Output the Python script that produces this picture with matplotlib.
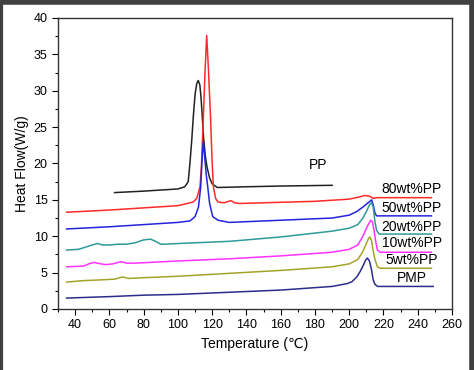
import matplotlib
matplotlib.use("Agg")
import matplotlib.pyplot as plt
from matplotlib.ticker import MultipleLocator
from matplotlib.lines import Line2D

plt.rcParams['font.family'] = ['Liberation Sans', 'DejaVu Sans']

# DSC curves (temperature in C, heat flow in W/g)
pp_x = [63, 80, 100, 104, 106, 107, 108, 109, 110, 111, 111.9, 112.8, 113.5, 114.2, 115, 116, 117, 118.5, 120, 123, 140, 160, 190]
pp_y = [16.0, 16.2, 16.5, 16.8, 17.5, 20.0, 23.0, 26.5, 29.5, 31.0, 31.4, 30.8, 29.0, 26.5, 23.5, 21.0, 19.5, 18.0, 17.2, 16.7, 16.8, 16.9, 17.0]

w80_x = [35, 60, 80, 100, 108.8, 111, 112.9, 113.8, 114.8, 115.8, 116.8, 117.8, 119.1, 120, 120.7, 122, 123.4, 127, 131, 133, 136, 150, 180, 200, 206, 209, 212, 214, 216, 230, 248]
w80_y = [13.3, 13.6, 13.9, 14.2, 14.7, 15.2, 16.8, 20.0, 26.0, 32.5, 37.6, 33.0, 26.0, 20.0, 16.8, 15.2, 14.7, 14.6, 14.9, 14.6, 14.5, 14.6, 14.8, 15.1, 15.4, 15.6, 15.5, 15.2, 15.3, 15.3, 15.3]

w50_x = [35, 60, 80, 100, 107, 110, 112, 113.3, 114.2, 114.8, 115.6, 116.5, 117.4, 118.5, 120.3, 123.4, 130, 160, 190, 200, 204.4, 208.2, 211, 213.1, 214, 215, 216, 218, 248]
w50_y = [11.0, 11.3, 11.6, 11.9, 12.1, 12.7, 14.0, 16.8, 21.0, 23.0, 21.0, 18.5, 16.8, 14.5, 12.7, 12.2, 11.9, 12.2, 12.5, 12.9, 13.4, 14.05, 14.6, 15.0, 14.3, 13.2, 12.8, 12.8, 12.8]

w20_x = [35, 42, 46, 50, 53, 56, 60, 65, 70, 75, 80, 84, 87, 90, 92, 100, 130, 160, 190, 200, 205, 208, 210, 212, 213, 214, 215, 216, 217.5, 248]
w20_y = [8.1, 8.2, 8.5, 8.8, 9.0, 8.8, 8.8, 8.9, 8.9, 9.1, 9.5, 9.6, 9.3, 8.9, 8.9, 9.0, 9.3, 9.9, 10.7, 11.1, 11.6, 12.5, 13.4, 14.4, 14.6, 14.0, 12.0, 10.8, 10.3, 10.3]

w10_x = [35, 45, 48, 51, 55, 58, 62, 65, 67, 70, 75, 100, 130, 160, 190, 200, 205, 208, 210, 212.5, 213.5, 214.5, 215.5, 216.5, 218, 248]
w10_y = [5.8, 5.9, 6.2, 6.4, 6.2, 6.1, 6.2, 6.4, 6.5, 6.3, 6.3, 6.6, 6.9, 7.3, 7.8, 8.2, 8.8, 10.0, 11.1, 12.2, 12.0, 10.8, 9.2, 8.1, 7.8, 7.8]

w5_x = [35, 45, 55, 63, 66, 68, 71, 80, 100, 130, 160, 190, 200, 205, 208, 210, 211.3, 212.1, 213, 214, 215, 216.5, 218, 248]
w5_y = [3.7, 3.9, 4.0, 4.1, 4.3, 4.4, 4.2, 4.3, 4.5, 4.9, 5.3, 5.8, 6.2, 6.8, 7.9, 9.0, 9.7, 9.9, 9.4, 8.0, 6.8, 5.8, 5.6, 5.6]

pmp_x = [35, 60, 80, 100, 130, 160, 190, 199, 201.6, 204.4, 206.5, 208.2, 209.5, 210.6, 211.8, 213, 214, 215, 216.5, 249]
pmp_y = [1.5, 1.7, 1.9, 2.0, 2.3, 2.6, 3.1, 3.5, 3.75, 4.4, 5.2, 6.0, 6.7, 7.0, 6.6, 5.4, 4.0, 3.4, 3.1, 3.1]

labels = ["80wt%PP", "50wt%PP", "20wt%PP", "10wt%PP", "5wt%PP", "PMP"]
label_y = [16.5, 13.9, 11.3, 9.1, 6.7, 4.3]

fig = plt.figure(figsize=(4.74, 3.70), dpi=100)
ax = fig.add_axes([0.1224, 0.1649, 0.8312, 0.7865])

series = [
    (pp_x, pp_y, '#222222'),
    (w80_x, w80_y, '#ff2a2a'),
    (w50_x, w50_y, '#2424dd'),
    (w20_x, w20_y, '#2e9a9a'),
    (w10_x, w10_y, '#ff33ff'),
    (w5_x, w5_y, '#a3a32a'),
    (pmp_x, pmp_y, '#2c2c8c'),
]
for xs, ys, c in series:
    ax.plot(xs, ys, color=c, lw=1.1)

ax.text(182, 19.8, "PP", fontsize=10, ha='center', va='center')
for lab, ly in zip(labels, label_y):
    ax.text(236.5, ly, lab, fontsize=10, ha='center', va='center')

ax.set_xlim(30, 260)
ax.set_ylim(0, 40)
ax.xaxis.set_minor_locator(MultipleLocator(10))
ax.yaxis.set_major_locator(MultipleLocator(5))
ax.yaxis.set_minor_locator(MultipleLocator(2.5))
ax.set_xticks(range(40, 261, 20))
ax.tick_params(which='both', direction='out', labelsize=9, width=0.8)
ax.tick_params(which='major', length=4)
ax.tick_params(which='minor', length=2.5)
ax.set_xlabel("Temperature (\u2103)", fontsize=10, labelpad=4)
ax.set_ylabel("Heat Flow(W/g)", fontsize=10, labelpad=3)
for s in ax.spines.values():
    s.set_linewidth(1.0)
    s.set_color('#333333')

# dark frame around the picture
frame_kw = dict(transform=fig.transFigure, color='#404040')
fig.add_artist(Line2D([0, 1], [0.995, 0.995], lw=4, **frame_kw))
fig.add_artist(Line2D([0.003, 0.003], [0, 1], lw=3, **frame_kw))
fig.add_artist(Line2D([0.995, 0.995], [0, 1], lw=4, **frame_kw))

fig.savefig("out.png", dpi=100)
